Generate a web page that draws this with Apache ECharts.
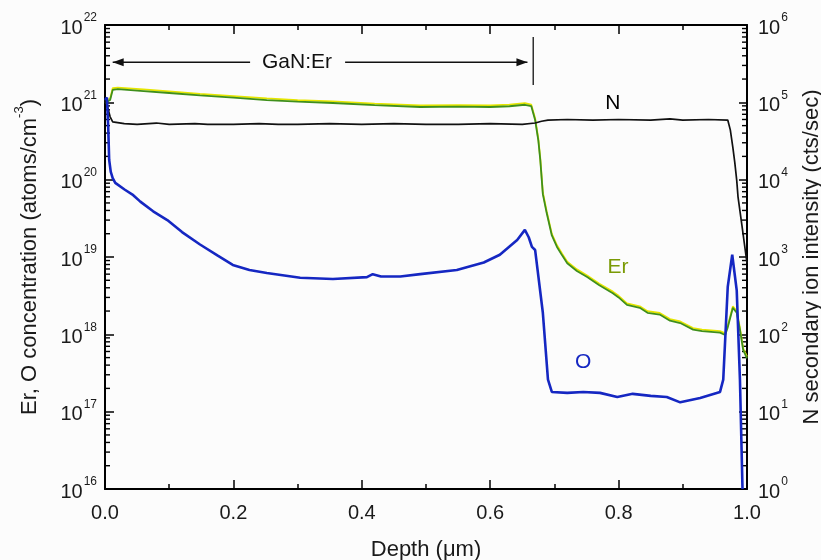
<!DOCTYPE html>
<html><head><meta charset="utf-8">
<script src="https://cdn.jsdelivr.net/npm/echarts@6/dist/echarts.min.js"></script>
<style>html,body{margin:0;padding:0;background:#fcfcfc}#c{width:821px;height:560px}</style>
</head><body><div id="c"></div>
<script>
// ---- data ----
const erDepth = [0, 0.008, 0.012, 0.02, 0.06, 0.1, 0.148, 0.2, 0.252, 0.3, 0.355, 0.42, 0.491, 0.55, 0.6, 0.63, 0.654, 0.664, 0.670, 0.675, 0.678, 0.682, 0.688, 0.696, 0.704, 0.712, 0.720, 0.735, 0.751, 0.77, 0.791, 0.80, 0.813, 0.833, 0.845, 0.864, 0.88, 0.896, 0.916, 0.93, 0.958, 0.966, 0.970, 0.978, 0.984, 0.989, 0.994, 1.0];
const erConc = [9.8e20, 1.07e21, 1.45e21, 1.48e21, 1.4e21, 1.32e21, 1.23e21, 1.15e21, 1.07e21, 1.02e21, 9.8e20, 9.2e20, 8.7e20, 8.8e20, 8.7e20, 8.9e20, 9.3e20, 8.9e20, 5.9e20, 3.2e20, 1.8e20, 6.5e19, 3.7e19, 1.9e19, 1.35e19, 1.05e19, 8.3e18, 6.6e18, 5.5e18, 4.3e18, 3.4e18, 3.0e18, 2.4e18, 2.2e18, 1.9e18, 1.8e18, 1.5e18, 1.4e18, 1.15e18, 1.1e18, 1.05e18, 9.8e17, 1.23e18, 2.2e18, 1.9e18, 1.15e18, 6.3e17, 4.9e17];

const oDepth = [0, 0.003, 0.005, 0.0065, 0.009, 0.012, 0.016, 0.031, 0.044, 0.055, 0.075, 0.097, 0.12, 0.148, 0.175, 0.199, 0.225, 0.252, 0.304, 0.355, 0.408, 0.417, 0.430, 0.460, 0.491, 0.548, 0.59, 0.615, 0.642, 0.654, 0.660, 0.665, 0.670, 0.682, 0.690, 0.696, 0.720, 0.745, 0.771, 0.798, 0.822, 0.850, 0.875, 0.896, 0.927, 0.958, 0.963, 0.970, 0.977, 0.984, 0.989, 0.993];
const oConc = [1.07e21, 1.15e21, 4.8e20, 1.8e20, 1.26e20, 1.05e20, 9.1e19, 7.4e19, 6.3e19, 5.2e19, 3.9e19, 3.0e19, 2.1e19, 1.45e19, 1.05e19, 7.9e18, 6.8e18, 6.2e18, 5.4e18, 5.2e18, 5.5e18, 6.0e18, 5.6e18, 5.6e18, 6.0e18, 6.8e18, 8.5e18, 1.07e19, 1.66e19, 2.24e19, 1.8e19, 1.35e19, 1.23e19, 1.9e18, 2.6e17, 1.8e17, 1.75e17, 1.8e17, 1.75e17, 1.55e17, 1.7e17, 1.6e17, 1.55e17, 1.32e17, 1.5e17, 1.8e17, 2.6e17, 4.1e18, 1.07e19, 3.7e18, 2.6e17, 1e16];

const nDepth = [0, 0.003, 0.008, 0.012, 0.03, 0.05, 0.08, 0.1, 0.14, 0.16, 0.2, 0.24, 0.27, 0.3, 0.35, 0.4, 0.45, 0.5, 0.55, 0.6, 0.65, 0.67, 0.68, 0.69, 0.72, 0.76, 0.8, 0.85, 0.88, 0.9, 0.94, 0.97, 0.974, 0.978, 0.981, 0.984, 0.986, 0.992, 1.0];
const nIntensity = [1.07e5, 9.3e4, 6.5e4, 5.6e4, 5.3e4, 5.2e4, 5.4e4, 5.2e4, 5.3e4, 5.2e4, 5.2e4, 5.3e4, 5.2e4, 5.2e4, 5.3e4, 5.2e4, 5.3e4, 5.2e4, 5.2e4, 5.3e4, 5.2e4, 5.4e4, 5.7e4, 5.9e4, 6.0e4, 5.9e4, 6.0e4, 5.9e4, 6.1e4, 5.9e4, 6.0e4, 5.9e4, 4.4e4, 2.6e4, 1.66e4, 9.8e3, 6.0e3, 2.6e3, 8.3e2];

const xTickLabels = {0: '0.0', 0.2: '0.2', 0.4: '0.4', 0.6: '0.6', 0.8: '0.8', 1: '1.0'};
const leftDecades = [16, 17, 18, 19, 20, 21, 22];
const minorMultipliers = [2, 3, 4, 5, 6, 7, 8, 9];

// annotations (in data coordinates of depth / left axis)
const annotationTexts = ['GaN:Er', 'N', 'Er', 'O'];
const annotationDepth = [0.299, 0.791, 0.799, 0.745];
const annotationConc = [3.3e21, 9.8e20, 7.3e18, 4.3e17];
const annotationColors = ['#111111', '#000000', '#7a9a05', '#1527c2'];
// [x1, y1, x2, y2, arrowAtStart, arrowAtEnd]
const arrowSegments = [
  [0.012, 3.3e21, 0.226, 3.3e21, 1, 0],
  [0.374, 3.3e21, 0.658, 3.3e21, 0, 1],
  [0.667, 7.0e21, 0.667, 1.67e21, 0, 0]
];

// ---- build ----
const pairs = (xs, ys) => xs.map((x, i) => [x, ys[i]]);
const minorTicks = [];
leftDecades.slice(0, -1).forEach(k => minorMultipliers.forEach(m => minorTicks.push([0.5, m * Math.pow(10, k)])));

const supFmt = v => '{b|10}{s|' + Math.round(Math.log10(v)) + '}';
const mkRich = () => ({
  b: {fontSize: 20, fontFamily: 'Liberation Sans', color: '#1a1a1a', verticalAlign: 'bottom', lineHeight: 26},
  s: {fontSize: 12, fontFamily: 'Liberation Sans', color: '#1a1a1a', verticalAlign: 'top', lineHeight: 26, padding: [0, 0, 0, 1]}
});
const tick = (len) => ({show: true, inside: true, length: len, lineStyle: {color: '#000', width: 1.5}});
const minor = () => ({show: true, splitNumber: 2, length: 5, lineStyle: {color: '#000', width: 1.5}});
const aline = () => ({show: true, onZero: false, lineStyle: {color: '#000', width: 2}});

function arrowHead(tip, from) {
  const dx = tip[0] - from[0], dy = tip[1] - from[1];
  const L = Math.sqrt(dx * dx + dy * dy) || 1;
  const ux = dx / L, uy = dy / L, px = -uy, py = ux;
  const bx = tip[0] - ux * 11, by = tip[1] - uy * 11;
  return {type: 'polygon', shape: {points: [tip, [bx + px * 4, by + py * 4], [bx - px * 4, by - py * 4]]}, style: {fill: '#111'}};
}

const chart = echarts.init(document.getElementById('c'));
chart.setOption({
  backgroundColor: '#fcfcfc',
  animation: false,
  grid: {left: 105, right: 74, top: 25, bottom: 71, outerBoundsMode: 'none'},
  xAxis: [{
    type: 'value', min: 0, max: 1, interval: 0.2, position: 'bottom',
    axisLine: aline(), axisTick: tick(9), minorTick: minor(),
    splitLine: {show: false},
    axisLabel: {margin: 14, fontSize: 20, fontFamily: 'Liberation Sans', color: '#1a1a1a',
      formatter: v => xTickLabels[Math.round(v * 10) / 10]},
    name: 'Depth (\u03bcm)', nameLocation: 'middle', nameGap: 50,
    nameTextStyle: {fontSize: 22, fontFamily: 'Liberation Sans', color: '#1a1a1a'}
  }, {
    type: 'value', min: 0, max: 1, interval: 0.2, position: 'top',
    axisLine: aline(), axisTick: tick(9), minorTick: minor(),
    splitLine: {show: false}, axisLabel: {show: false}
  }],
  yAxis: [{
    type: 'log', logBase: 10, min: 1e16, max: 1e22, interval: 1, position: 'left',
    axisLine: aline(), axisTick: tick(9),
    splitLine: {show: false},
    axisLabel: {margin: 8, formatter: supFmt, rich: mkRich()},
    name: '{t|Er, O concentration (atoms/cm}{s|-3}{t|)}', nameLocation: 'middle', nameGap: 64, nameRotate: 90,
    nameTextStyle: {rich: {
      t: {fontSize: 22, fontFamily: 'Liberation Sans', color: '#1a1a1a', verticalAlign: 'bottom', lineHeight: 28},
      s: {fontSize: 13, fontFamily: 'Liberation Sans', color: '#1a1a1a', verticalAlign: 'top', lineHeight: 28}
    }}
  }, {
    type: 'log', logBase: 10, min: 1, max: 1e6, interval: 1, position: 'right',
    axisLine: aline(), axisTick: tick(8),
    splitLine: {show: false},
    axisLabel: {margin: 11, formatter: supFmt, rich: mkRich()},
    name: 'N secondary ion intensity (cts/sec)', nameLocation: 'middle', nameGap: 54, nameRotate: 90,
    nameTextStyle: {fontSize: 22, fontFamily: 'Liberation Sans', color: '#1a1a1a'}
  }],
  series: [{
    name: 'Er', type: 'line', xAxisIndex: 0, yAxisIndex: 0, data: pairs(erDepth, erConc),
    showSymbol: false, symbol: 'none',
    lineStyle: {color: '#3f8f1c', width: 1.8, shadowColor: '#e6e600', shadowOffsetY: -1.6, shadowBlur: 0}
  }, {
    name: 'N', type: 'line', xAxisIndex: 0, yAxisIndex: 1, data: pairs(nDepth, nIntensity),
    showSymbol: false, symbol: 'none', lineStyle: {color: '#111', width: 1.7}
  }, {
    name: 'O', type: 'line', xAxisIndex: 0, yAxisIndex: 0, data: pairs(oDepth, oConc),
    showSymbol: false, symbol: 'none', lineStyle: {color: '#1527c2', width: 2.6}
  }, {
    name: 'minorTicks', type: 'custom', xAxisIndex: 0, yAxisIndex: 0, data: minorTicks, encode: {x: 0, y: 1},
    renderItem: function (params, api) {
      const v = api.value(1);
      const pL = api.coord([0, v]);
      const pR = api.coord([1, v]);
      return {type: 'group', children: [
        {type: 'line', shape: {x1: pL[0], y1: pL[1], x2: pL[0] + 5, y2: pL[1]}, style: {stroke: '#000', lineWidth: 1.4}},
        {type: 'line', shape: {x1: pR[0], y1: pR[1], x2: pR[0] - 5, y2: pR[1]}, style: {stroke: '#000', lineWidth: 1.4}}
      ]};
    }
  }, {
    name: 'arrows', type: 'custom', xAxisIndex: 0, yAxisIndex: 0, data: arrowSegments, encode: {x: [0, 2], y: [1, 3]},
    renderItem: function (params, api) {
      const p1 = api.coord([api.value(0), api.value(1)]);
      const p2 = api.coord([api.value(2), api.value(3)]);
      const children = [{type: 'line', shape: {x1: p1[0], y1: p1[1], x2: p2[0], y2: p2[1]}, style: {stroke: '#111', lineWidth: 1.3}}];
      if (api.value(4)) children.push(arrowHead(p1, p2));
      if (api.value(5)) children.push(arrowHead(p2, p1));
      return {type: 'group', children: children};
    }
  }, {
    name: 'labels', type: 'custom', xAxisIndex: 0, yAxisIndex: 0, silent: true,
    data: annotationTexts.map((t, i) => [annotationDepth[i], annotationConc[i], i]), encode: {x: 0, y: 1},
    renderItem: function (params, api) {
      const p = api.coord([api.value(0), api.value(1)]);
      const i = api.value(2);
      return {type: 'text', x: p[0], y: p[1], style: {text: annotationTexts[i], fill: annotationColors[i],
        fontSize: 21, fontFamily: 'Liberation Sans', align: 'center', verticalAlign: 'middle'}};
    }
  }]
});
</script>
</body></html>
